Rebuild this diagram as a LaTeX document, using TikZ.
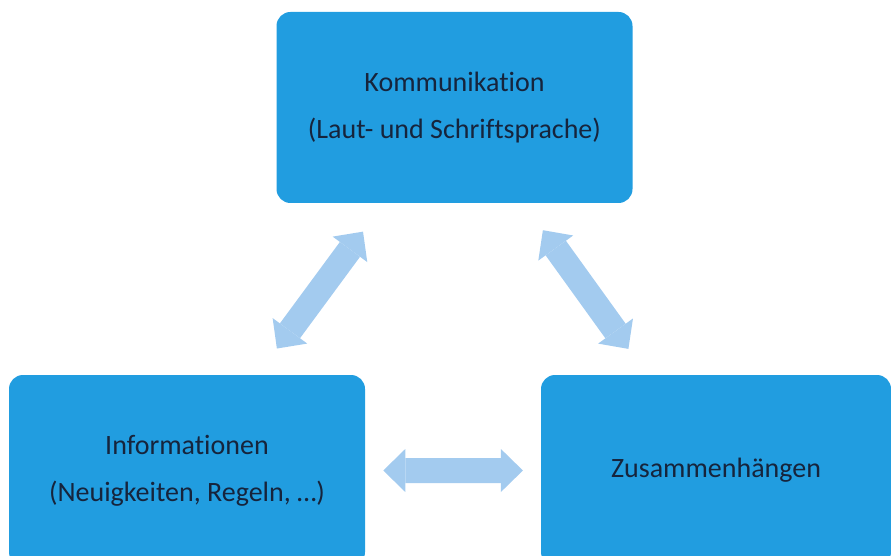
\documentclass[tikz,border=0pt]{standalone}
\usepackage{fontspec}
\setmainfont{Carlito}[Ligatures=NoCommon]
\usetikzlibrary{arrows.meta, calc}
\definecolor{boxblue}{RGB}{33,157,224}
\definecolor{arrowblue}{RGB}{163,203,239}
\definecolor{textnavy}{RGB}{22,36,60}

\begin{document}
\begin{tikzpicture}[x=1pt, y=-1pt,
    box/.style={rectangle, rounded corners=14pt, fill=boxblue, text=textnavy,
                minimum width=356pt, minimum height=191pt, inner sep=0pt,
                align=center, font=\fontsize{28}{47}\selectfont},
    link/.style={arrowblue, line width=25pt,
                 {Triangle[length=22pt, width=43pt, line width=0pt]}-{Triangle[length=22pt, width=43pt, line width=0pt]}}]
        \useasboundingbox (0, 0) rectangle (891, 556);
        \clip (0, 0) rectangle (891, 556);
        % Draw the boxes
        \node[box] at (454.5, 107.5) (kom)  {Kommunikation\\(Laut- und Schriftsprache)};
        \node[box] at (187, 470.5)   (info) {Informationen\\(Neuigkeiten, Regeln, …)};
        \node[box, minimum width=350pt] at (716, 470.5) (zus) {Zusammenhängen};
        % Connect the boxes with arrows
        \draw[link] ($(info)!0.336!(kom)$) -- ($(info)!0.658!(kom)$);
        \draw[link] ($(kom)!0.338!(zus)$)  -- ($(kom)!0.665!(zus)$);
        \draw[link] ($(info)!0.371!(zus)$) -- ($(info)!0.635!(zus)$);
\end{tikzpicture}
\end{document}
